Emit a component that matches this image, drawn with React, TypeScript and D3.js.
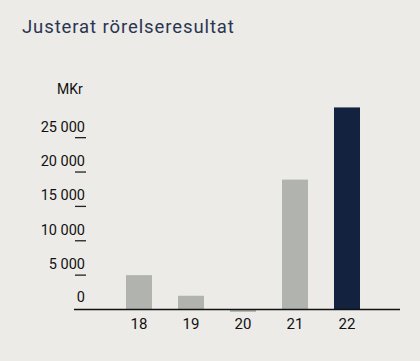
import React from 'react';
import * as d3 from 'd3';

// chart data
const years = ['18', '19', '20', '21', '22'];
const values = [5000, 2000, -350, 18900, 29400];
const yTicks = [5000, 10000, 15000, 20000, 25000];

const W = 420;
const H = 361;

export default function App() {
  // scales
  const x = d3.scaleBand<string>().domain(years).range([113, 373]).paddingInner(0.5).paddingOuter(0.25);
  const y = d3.scaleLinear().domain([0, 30000]).range([309.5, 103.3]);

  const fmt = (v: number) => d3.format(',')(v).replace(/,/g, ' ');
  const font = 'Roboto, "Noto Sans", sans-serif';

  return (
    <div style={{ position: 'fixed', left: 0, top: 0, width: W, height: H }}>
      <svg width={W} height={H} style={{ display: 'block', background: '#ECEBE8' }} fontFamily={font}>
        <text x={22} y={33} fontSize={18.5} fill="#2A3550" letterSpacing={0.9}>
          Justerat rörelseresultat
        </text>
        <text x={57} y={94} fontSize={14} fill="#111">MKr</text>

        {/* bars */}
        {years.map((yr, i) => {
          const v = values[i];
          const y0 = y(Math.max(0, v));
          const y1 = y(Math.min(0, v));
          return (
            <rect
              key={yr}
              x={x(yr)}
              y={y0}
              width={x.bandwidth()}
              height={y1 - y0}
              fill={i === years.length - 1 ? '#12223F' : '#B1B4AE'}
            />
          );
        })}

        {/* y ticks: label above a short dash */}
        {yTicks.map(t => (
          <g key={t}>
            <line x1={75} x2={86} y1={y(t)} y2={y(t)} stroke="#222" strokeWidth={1.3} />
            <text x={85} y={y(t) - 6} fontSize={14.5} textAnchor="end" fill="#111">{fmt(t)}</text>
          </g>
        ))}
        <text x={85} y={y(0) - 7.5} fontSize={14.5} textAnchor="end" fill="#111">0</text>

        {/* baseline */}
        <line x1={74} x2={400} y1={y(0)} y2={y(0)} stroke="#111" strokeWidth={1.5} />

        {/* x labels */}
        {years.map(yr => (
          <text key={yr} x={(x(yr) ?? 0) + x.bandwidth() / 2} y={328.5} fontSize={15} textAnchor="middle" fill="#111">
            {yr}
          </text>
        ))}
      </svg>
    </div>
  );
}
